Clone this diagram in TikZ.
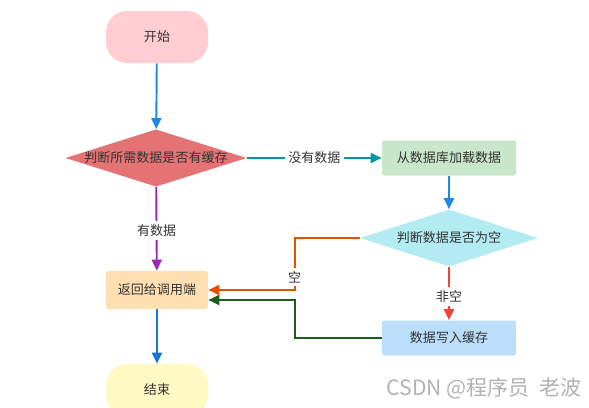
\documentclass[tikz,border=0pt]{standalone}
\usepackage{fontspec}
\newfontfamily\cjk{Noto Sans CJK SC}
\usetikzlibrary{shapes.geometric,arrows.meta}

\definecolor{startpink}{HTML}{FFCDD2}
\definecolor{checkred}{HTML}{E57373}
\definecolor{loadgreen}{HTML}{C8E6C9}
\definecolor{emptycyan}{HTML}{B2EBF2}
\definecolor{writeblue}{HTML}{BBDEFB}
\definecolor{replyorange}{HTML}{FFE0B2}
\definecolor{endyellow}{HTML}{FFF9C4}
\definecolor{lineblue}{HTML}{1E88E5}
\definecolor{lineteal}{HTML}{0097A7}
\definecolor{linepurple}{HTML}{9C27B0}
\definecolor{lineorange}{HTML}{E65100}
\definecolor{linered}{HTML}{F44336}
\definecolor{linegreen}{HTML}{1B5E20}
\definecolor{lineblue2}{HTML}{1976D2}

\begin{document}
\begin{tikzpicture}[x=0.02cm, y=-0.02cm,
        font=\cjk\fontsize{7.4}{9}\selectfont, text=black!80,
        terminal/.style={rounded corners=0.42cm, minimum width=2.04cm, minimum height=1.04cm, inner sep=0pt},
        box/.style={rounded corners=1pt, minimum width=2.68cm, minimum height=0.7cm, inner sep=0pt},
        test/.style={diamond, aspect=3.16, inner sep=0pt, minimum width=3.58cm, minimum height=1.14cm},
        flow/.style={line width=1.1pt, -{Triangle[length=2.2mm,width=2mm]}},
        tag/.style={fill=white, inner sep=2pt, text=black!80}]
    \useasboundingbox (0,0) rectangle (589,407);

    % boxes
    \node[terminal, fill=startpink] (start) at (157,37) {开始};
    \node[test, fill=checkred] (check) at (156,158) {判断所需数据是否有缓存};
    \node[box, fill=loadgreen] (load) at (449,158) {从数据库加载数据};
    \node[test, fill=emptycyan, minimum width=3.56cm] (empty) at (449,238) {判断数据是否为空};
    \node[box, fill=writeblue] (write) at (449,338) {数据写入缓存};
    \node[box, fill=replyorange, minimum width=2.04cm, minimum height=0.76cm] (reply) at (157,290) {返回给调用端};
    \node[terminal, fill=endyellow] (finish) at (157,390) {结束};

    % connectors
    \draw[flow, lineblue] (start) -- (check);
    \draw[flow, lineteal] (check) -- node[tag] {没有数据} (load);
    \draw[flow, lineblue] (load) -- (empty);
    \draw[flow, linepurple] (check) -- node[tag, pos=0.52] {有数据} (reply);
    \draw[flow, lineorange] (empty.west) -- ++(-65,0) |- node[tag, pos=0.375] {空} (reply.east);
    \draw[flow, linered] (empty) -- node[tag, pos=0.55] {非空} (write);
    \draw[flow, linegreen] (write.west) -- ++(-87,0) |- ([yshift=-0.2cm]reply.east);
    \draw[flow, lineblue2] (reply) -- (finish);

    \node[text=gray!60, font=\cjk\fontsize{12}{14}\selectfont] (mark) at (484,388) {CSDN @程序员\ \ 老波};
\end{tikzpicture}
\end{document}
